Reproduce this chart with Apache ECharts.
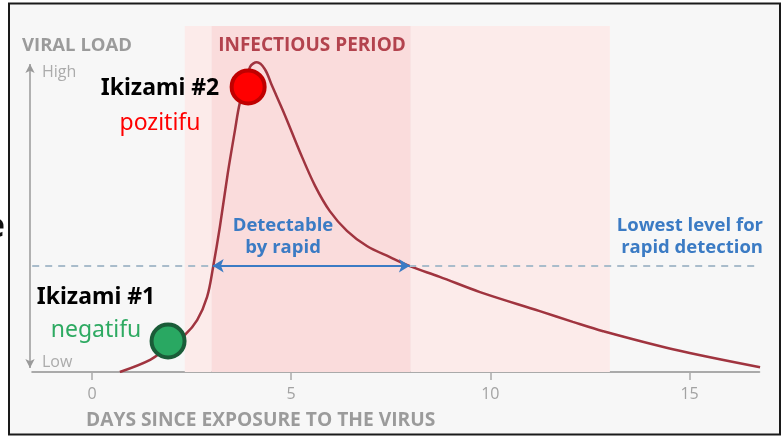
<!DOCTYPE html>
<html>
<head>
<meta charset="utf-8">
<script src="https://cdn.jsdelivr.net/npm/echarts@6/dist/echarts.min.js"></script>
<style>
html,body{margin:0;padding:0;background:#fff;}
#c{width:784px;height:436px;}
</style>
</head>
<body>
<div id="c"></div>
<script>
// ---- data ----
const days = [0.70,1.46,1.91,2.33,2.64,2.89,3.04,3.21,3.41,3.59,3.71,3.97,4.14,4.34,4.52,4.84,5.22,5.60,5.97,6.40,6.90,7.48,7.98,8.73,9.74,11.24,12.07,12.83,14.58,16.77];
const viralLoad = [0,3.5,7.2,10.7,15.0,21.7,30.3,41.9,57.5,69.9,77.7,88.2,89.5,87.5,82.7,74.3,63.6,53.8,46.5,40.8,36.4,33.2,30.6,27.5,23.1,17.6,14.5,11.8,6.6,1.4];
const xTickValues = [0,5,10,15];
const rapidThreshold = 30.7;
const detectableRange = [3.03, 7.98];
const infectiousPeriod = [3, 8];
const outerPeriod = [2.33, 13];
const testNames = ['Ikizami #1','Ikizami #2'];
const testResults = ['negatifu','pozitifu'];
const testDays = [1.91, 3.92];
const testLoads = [8.96, 82.4];

const grayText = '#9b9b9b';
const blue = '#3b7bc4';
const fontG = '"Open Sans", "Noto Sans", sans-serif';
const fontC = '"Noto Sans", "Open Sans", sans-serif';

const chart = echarts.init(document.getElementById('c'), null, {renderer:'canvas'});
const option = {
  backgroundColor: '#ffffff',
  animation: false,
  grid: {left: 32.2, right: 24.7, top: 26, bottom: 64},
  xAxis: {
    type: 'value', min: -1.5, max: 16.75,
    axisLine: {show: true, lineStyle: {color: '#aaaaaa', width: 2}},
    axisTick: {show: true, customValues: xTickValues, length: 8, lineStyle: {color: '#aaaaaa', width: 1.5}},
    axisLabel: {show: true, customValues: xTickValues, color: '#a3a3a3', fontSize: 16, margin: 14, fontFamily: fontG},
    splitLine: {show: false}
  },
  yAxis: {type: 'value', min: 0, max: 100, show: false},
  series: [
    {
      type: 'line', name: 'threshold', data: [], silent: true,
      markLine: {
        silent: true, symbol: 'none', label: {show: false},
        lineStyle: {color: '#a9bccb', width: 2, type: [7, 6]},
        data: [{yAxis: rapidThreshold}]
      },
      markArea: {
        silent: true,
        data: [
          [{xAxis: outerPeriod[0], itemStyle: {color: '#fcebea', opacity: 1}}, {xAxis: infectiousPeriod[0]}],
          [{xAxis: infectiousPeriod[1], itemStyle: {color: '#fcebea', opacity: 1}}, {xAxis: outerPeriod[1]}],
          [{xAxis: infectiousPeriod[0], itemStyle: {color: '#fadcdc', opacity: 1}}, {xAxis: infectiousPeriod[1]}]
        ]
      },
      z: 1
    },
    {
      type: 'line', name: 'viral load', smooth: 0.35,
      data: days.map((d, i) => [d, viralLoad[i]]),
      showSymbol: false,
      lineStyle: {color: '#a0343f', width: 2.5},
      z: 3
    },
    {
      type: 'line', name: 'detect', data: [], silent: true,
      markLine: {
        silent: true, symbol: ['arrow', 'arrow'], symbolSize: [10, 11], label: {show: false},
        lineStyle: {color: blue, width: 2, type: 'solid'},
        data: [[{coord: [detectableRange[0], rapidThreshold]}, {coord: [detectableRange[1], rapidThreshold]}]]
      },
      z: 4
    },
    {
      type: 'line', name: 'yarrow', data: [], silent: true,
      markLine: {
        silent: true, symbol: ['arrow', 'arrow'], symbolSize: [7, 9], label: {show: false},
        lineStyle: {color: '#9a9a9a', width: 1.5, type: 'solid'},
        data: [[{x: 30, y: 368}, {x: 30, y: 64}]]
      },
      z: 4
    },
    {
      type: 'scatter', name: 'tests', symbolSize: 33,
      data: [
        {value: [testDays[0], testLoads[0]], itemStyle: {color: '#29a862', borderColor: '#1a5c38', borderWidth: 4, opacity: 1}},
        {value: [testDays[1], testLoads[1]], itemStyle: {color: '#ff0000', borderColor: '#c00000', borderWidth: 4, opacity: 1}}
      ],
      z: 6
    }
  ],
  graphic: [
    {type: 'rect', z: -10, shape: {x: 9, y: 3.5, width: 771, height: 431}, style: {fill: '#f7f7f7'}, silent: true},
    {type: 'rect', z: 100, shape: {x: 9, y: 3.5, width: 771, height: 431}, style: {fill: 'none', stroke: '#1a1a1a', lineWidth: 2}, silent: true},
    {type: 'text', z: 100, x: 5, y: 227, style: {text: 'e', fill: '#111', font: 'bold 34px ' + fontC, textAlign: 'right', textVerticalAlign: 'middle'}},
    {type: 'text', z: 100, x: 22, y: 46, style: {text: 'VIRAL LOAD', fill: grayText, font: 'bold 18.5px ' + fontG, textVerticalAlign: 'middle'}},
    {type: 'text', z: 100, x: 42, y: 72, style: {text: 'High', fill: '#ababab', font: '16px ' + fontG, textVerticalAlign: 'middle'}},
    {type: 'text', z: 100, x: 42, y: 362, style: {text: 'Low', fill: '#ababab', font: '16px ' + fontG, textVerticalAlign: 'middle'}},
    {type: 'text', z: 100, x: 312, y: 46, style: {text: 'INFECTIOUS PERIOD', fill: '#b3434e', font: 'bold 19px ' + fontG, textAlign: 'center', textVerticalAlign: 'middle'}},
    {type: 'text', z: 100, x: 86, y: 421, style: {text: 'DAYS SINCE EXPOSURE TO THE VIRUS', fill: grayText, font: 'bold 19.2px ' + fontG, textVerticalAlign: 'middle'}},
    {type: 'text', z: 100, x: 283, y: 226, style: {text: 'Detectable', fill: blue, font: 'bold 18.5px ' + fontG, textAlign: 'center', textVerticalAlign: 'middle'}},
    {type: 'text', z: 100, x: 283, y: 248, style: {text: 'by rapid', fill: blue, font: 'bold 18.5px ' + fontG, textAlign: 'center', textVerticalAlign: 'middle'}},
    {type: 'text', z: 100, x: 763, y: 226, style: {text: 'Lowest level for', fill: blue, font: 'bold 18.5px ' + fontG, textAlign: 'right', textVerticalAlign: 'middle'}},
    {type: 'text', z: 100, x: 763, y: 248, style: {text: 'rapid detection', fill: blue, font: 'bold 18.5px ' + fontG, textAlign: 'right', textVerticalAlign: 'middle'}},
    {type: 'text', z: 100, x: 160, y: 88, style: {text: testNames[1], fill: '#000', font: 'bold 23px ' + fontC, textAlign: 'center', textVerticalAlign: 'middle'}},
    {type: 'text', z: 100, x: 160, y: 123, style: {text: testResults[1], fill: '#ff0000', font: '23px ' + fontC, textAlign: 'center', textVerticalAlign: 'middle'}},
    {type: 'text', z: 100, x: 96, y: 297, style: {text: testNames[0], fill: '#000', font: 'bold 23px ' + fontC, textAlign: 'center', textVerticalAlign: 'middle'}},
    {type: 'text', z: 100, x: 96, y: 330, style: {text: testResults[0], fill: '#2eaa62', font: '23px ' + fontC, textAlign: 'center', textVerticalAlign: 'middle'}}
  ]
};
chart.setOption(option);
</script>
</body>
</html>
